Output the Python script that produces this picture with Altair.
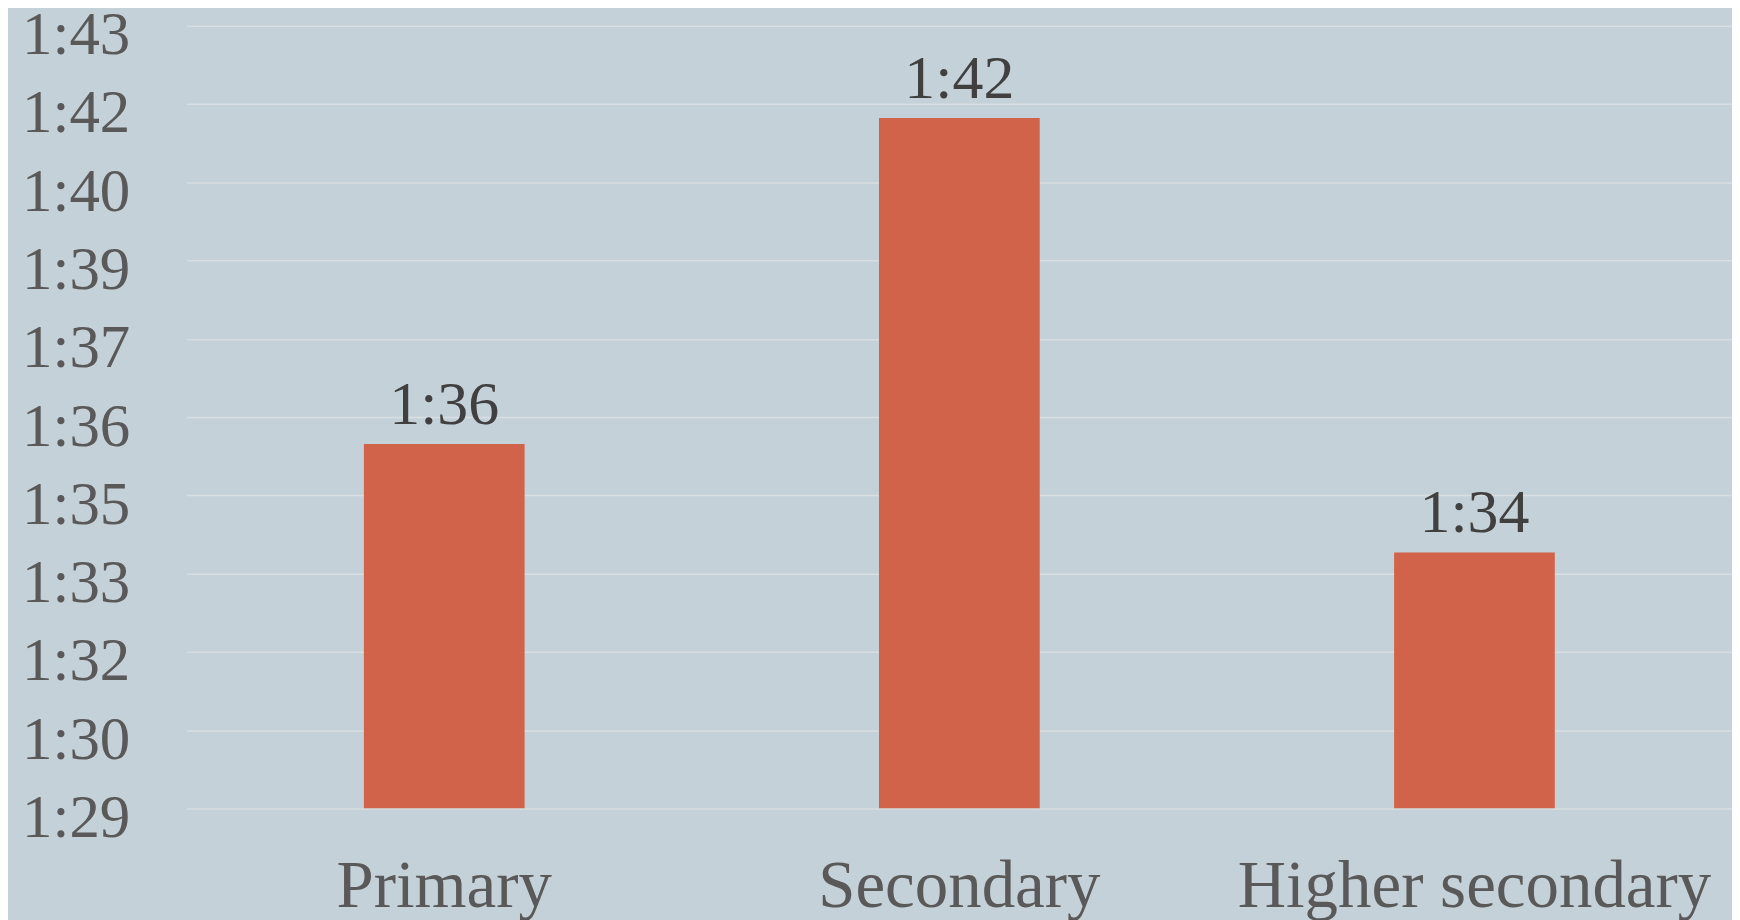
import altair as alt
import pandas as pd

categories = ["Primary", "Secondary", "Higher secondary"]
values = [35.52, 41.35, 33.58]
labels = ["1:36", "1:42", "1:34"]
tick_values = [29.0, 30.4, 31.8, 33.2, 34.6, 36.0, 37.4, 38.8, 40.2, 41.6, 43.0]

df = pd.DataFrame({"level": categories, "ratio": values, "label": labels})

FONT = "Liberation Serif"
BG = "#C5D1D8"
BAR = "#D1634A"

x = alt.X(
    "level:N",
    sort=categories,
    title=None,
    scale=alt.Scale(paddingInner=0.688, paddingOuter=0.344),
    axis=alt.Axis(
        labelAngle=0,
        labelFont=FONT,
        labelFontSize=67,
        labelColor="#595959",
        labelBaseline="alphabetic",
        labelPadding=98,
        labelLimit=0,
        labelOverlap=False,
        ticks=False,
        tickSize=0,
        domain=False,
        grid=False,
    ),
)

y = alt.Y(
    "ratio:Q",
    title=None,
    scale=alt.Scale(domain=[29, 43], nice=False, zero=False),
    axis=alt.Axis(
        values=tick_values,
        labelExpr="'1:' + round(datum.value)",
        labelFont=FONT,
        labelFontSize=61,
        labelColor="#595959",
        labelBaseline="alphabetic",
        labelAlign="right",
        labelOffset=28,
        labelPadding=57,
        labelLimit=0,
        labelOverlap=False,
        ticks=False,
        tickSize=0,
        domain=False,
        grid=True,
        gridColor="#D8DEE1",
        gridWidth=1.5,
    ),
)

bars = alt.Chart(df).mark_bar(color=BAR, clip=True).encode(
    x=x, y=y, y2=alt.datum(29)
)

text = alt.Chart(df).mark_text(
    font=FONT, fontSize=62, color="#404040", baseline="alphabetic", dy=-20
).encode(x=alt.X("level:N", sort=categories), y="ratio:Q", text="label:N")

chart = (
    alt.layer(bars, text)
    .properties(
        width=1548,
        height=784,
        background=BG,
        autosize=alt.AutoSizeParams(type="none"),
        padding={"left": 179, "top": 17, "right": 0, "bottom": 130},
    )
    .configure_view(stroke=None, fill=BG)
)

chart.save("out.html", embed_options={"renderer": "svg", "actions": False})
